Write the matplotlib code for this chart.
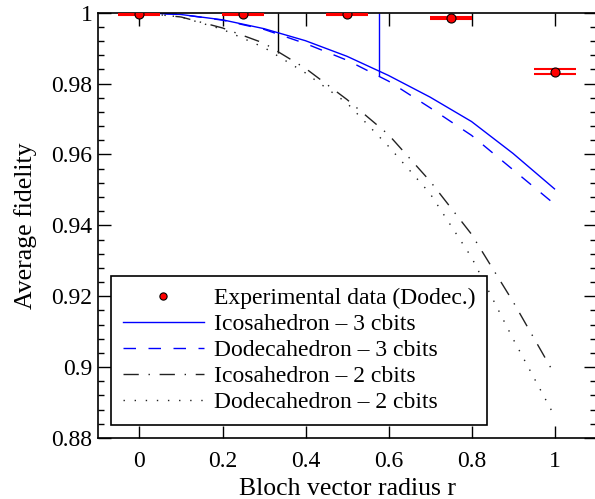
import numpy as np
import matplotlib
matplotlib.use("Agg")
import matplotlib.pyplot as plt
from matplotlib.ticker import AutoMinorLocator, FuncFormatter

plt.rcParams['font.family'] = ['Liberation Serif', 'DejaVu Serif']
plt.rcParams['mathtext.fontset'] = 'stix'

# bloch vector radius samples for the theory curves
r = [0.0, 0.1, 0.2, 0.3, 0.4, 0.5, 0.6, 0.7, 0.8, 0.9, 1.0]
ico_3 = [1.0, 0.9995, 0.9980, 0.9955, 0.9921, 0.9877, 0.9823, 0.9762, 0.9693, 0.9603, 0.9503]
dodec_3 = [1.0, 0.9995, 0.9979, 0.9953, 0.9913, 0.9866, 0.9807, 0.9732, 0.9654, 0.9557, 0.9460]
ico_2 = [1.0, 0.9988, 0.9957, 0.9914, 0.9843, 0.9755, 0.9656, 0.9525, 0.9375, 0.9185, 0.8980]
dodec_2 = [1.0, 0.9988, 0.9953, 0.9902, 0.9830, 0.9745, 0.9623, 0.9490, 0.9310, 0.9080, 0.8862]

# experimental points (dodecahedron)
exp_r = [0.0, 0.25, 0.5, 0.75, 1.0]
exp_f = [0.9995, 0.9995, 0.9995, 0.9986, 0.9834]
exp_err = [0.0002, 0.0002, 0.0002, 0.0003, 0.0007]

# stray vertical segments in the original figure
vline_black = (1/3, 0.9886, 1.0)
vline_blue = (0.577, 0.9821, 1.0)

fig = plt.figure(figsize=(5.95, 4.99), dpi=100)
ax = fig.add_axes([0.1647, 0.1222, 0.8370, 0.8523])

ax.vlines(vline_black[0], vline_black[1], vline_black[2], color='black', lw=1.0)
ax.vlines(vline_blue[0], vline_blue[1], vline_blue[2], color='blue', lw=1.0)

ax.errorbar(exp_r, exp_f, yerr=exp_err, fmt='none', ecolor='red', elinewidth=1.2,
            capsize=15, capthick=1.5, zorder=4)
ax.plot(exp_r, exp_f, 'o', color='red', mec='black', mew=0.8, ms=6.5, zorder=5,
        label='Experimental data (Dodec.)')

ax.plot(r, ico_3, '-', color='blue', lw=1.0, label='Icosahedron – 3 cbits')
ax.plot(r, dodec_3, color='blue', lw=1.0, linestyle=(0, (9, 9)),
        label='Dodecahedron – 3 cbits')
ax.plot(r, ico_2, color='#222222', lw=1.0, linestyle=(0, (11, 7, 1, 7)),
        label='Icosahedron – 2 cbits')
ax.plot(r, dodec_2, color='#222222', lw=1.0, linestyle=(0, (1, 7)),
        label='Dodecahedron – 2 cbits')

ax.set_xlim(-0.1, 1.1)
ax.set_ylim(0.88, 1.0)
ax.set_xticks([0, 0.2, 0.4, 0.6, 0.8, 1.0])
ax.set_yticks([0.88, 0.9, 0.92, 0.94, 0.96, 0.98, 1.0])
ax.yaxis.set_minor_locator(AutoMinorLocator(5))
fmt = FuncFormatter(lambda v, p: ('%.2f' % v).rstrip('0').rstrip('.'))
ax.xaxis.set_major_formatter(fmt)
ax.yaxis.set_major_formatter(fmt)
ax.tick_params(which='both', direction='in', top=True, right=True, width=1.0,
               labelsize=17)
ax.tick_params(axis='x', pad=9)
ax.tick_params(axis='y', pad=4)
ax.tick_params(which='major', length=9)
ax.tick_params(which='minor', length=4.5)
for s in ax.spines.values():
    s.set_linewidth(1.2)

ax.set_xlabel('Bloch vector radius r', fontsize=18.5, labelpad=5)
ax.set_ylabel('Average fidelity', fontsize=18.5, labelpad=10)

leg = ax.legend(loc='lower left', bbox_to_anchor=(0.026, 0.03), borderaxespad=0,
                fontsize=17, handlelength=3.45, labelspacing=0.19, handletextpad=0.4,
                borderpad=0.5, fancybox=False, edgecolor='black', framealpha=1,
                markerscale=0.8)
leg.get_frame().set_linewidth(1.2)

fig.savefig('out.png', dpi=100)
